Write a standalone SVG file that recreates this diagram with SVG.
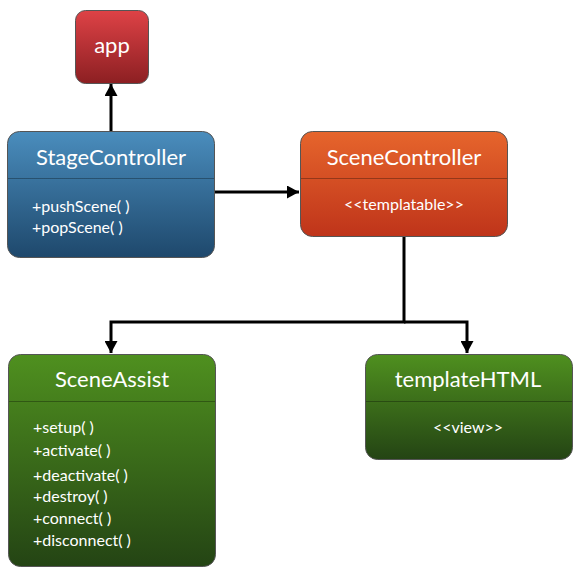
<svg xmlns="http://www.w3.org/2000/svg" width="580" height="574" viewBox="0 0 580 574">
<defs>
<linearGradient id="gRed" x1="0" y1="0" x2="0" y2="1"><stop offset="0" stop-color="#de4246"/><stop offset="1" stop-color="#8c1f22"/></linearGradient>
<linearGradient id="gBlue" x1="0" y1="0" x2="0" y2="1"><stop offset="0" stop-color="#4a8dbd"/><stop offset="1" stop-color="#1e486c"/></linearGradient>
<linearGradient id="gOrange" x1="0" y1="0" x2="0" y2="1"><stop offset="0" stop-color="#e6652c"/><stop offset="1" stop-color="#bf341a"/></linearGradient>
<linearGradient id="gGreen" x1="0" y1="0" x2="0" y2="1"><stop offset="0" stop-color="#4f901f"/><stop offset="1" stop-color="#244414"/></linearGradient>
<marker id="arr" viewBox="0 0 12 13" refX="12" refY="6.5" markerWidth="12" markerHeight="13" markerUnits="userSpaceOnUse" orient="auto">
<path d="M0,0 L12,6.5 L0,13 z" fill="#000"/>
</marker>
</defs>
<style>
.box{stroke:#555;stroke-width:1}
.div{stroke:#000;stroke-opacity:0.3;stroke-width:1}
.title{font-family:Lato,"Open Sans","DejaVu Sans",sans-serif;font-size:22px;fill:#fff;text-anchor:middle}
.item{font-family:Lato,"Open Sans","DejaVu Sans",sans-serif;font-size:16px;fill:#fff}
.ctr{text-anchor:middle}
.conn{fill:none;stroke:#000;stroke-width:3}
</style>
<g id="connectors">
<path class="conn" d="M111,131 V84" marker-end="url(#arr)"/>
<path class="conn" d="M214,192 H299" marker-end="url(#arr)"/>
<path class="conn" d="M404,236 V322 H111 V353" marker-end="url(#arr)"/>
<path class="conn" d="M404,322 H467 V353" marker-end="url(#arr)"/>
</g>
<g id="app">
<rect class="box" x="75.5" y="10.5" width="73" height="73" rx="10" fill="url(#gRed)"/>
<text class="title" x="112" y="53">app</text>
</g>
<g id="StageController">
<rect class="box" x="7.5" y="131.5" width="207" height="126" rx="12" fill="url(#gBlue)"/>
<line class="div" x1="8" y1="178.5" x2="214" y2="178.5"/>
<text class="title" x="111" y="165">StageController</text>
<text class="item" x="32" y="212">+pushScene( )</text>
<text class="item" x="32" y="233">+popScene( )</text>
</g>
<g id="SceneController">
<rect class="box" x="300.5" y="131.5" width="207" height="105" rx="12" fill="url(#gOrange)"/>
<line class="div" x1="301" y1="178.5" x2="507" y2="178.5"/>
<text class="title" x="404" y="165">SceneController</text>
<text class="item ctr" x="404" y="210">&lt;&lt;templatable&gt;&gt;</text>
</g>
<g id="SceneAssist">
<rect class="box" x="8.5" y="354.5" width="207" height="212" rx="12" fill="url(#gGreen)"/>
<line class="div" x1="9" y1="401.5" x2="215" y2="401.5"/>
<text class="title" x="112" y="387">SceneAssist</text>
<text class="item" x="33" y="433">+setup( )</text>
<text class="item" x="33" y="456">+activate( )</text>
<text class="item" x="33" y="481">+deactivate( )</text>
<text class="item" x="33" y="502">+destroy( )</text>
<text class="item" x="33" y="524">+connect( )</text>
<text class="item" x="33" y="546">+disconnect( )</text>
</g>
<g id="templateHTML">
<rect class="box" x="365.5" y="354.5" width="207" height="105" rx="12" fill="url(#gGreen)"/>
<line class="div" x1="366" y1="401.5" x2="572" y2="401.5"/>
<text class="title" x="468" y="387">templateHTML</text>
<text class="item ctr" x="468" y="433">&lt;&lt;view&gt;&gt;</text>
</g>
</svg>
